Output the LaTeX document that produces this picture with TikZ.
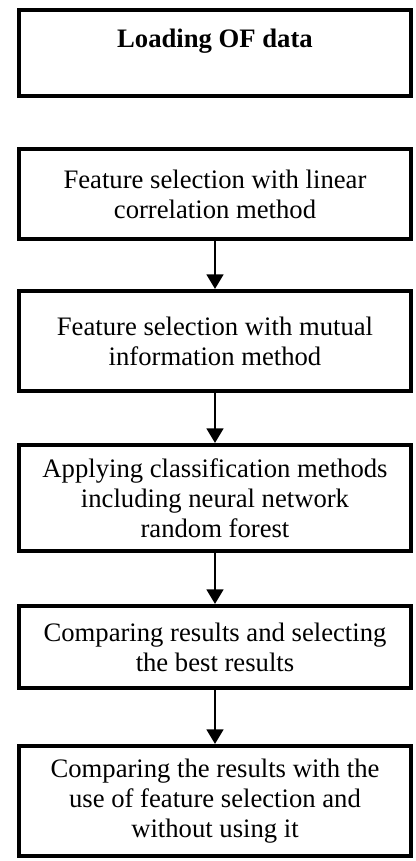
\documentclass[tikz,border=0pt]{standalone}
\usepackage{fontspec}
\setmainfont{Liberation Serif}
\usepackage{tikz}
\usetikzlibrary{arrows.meta, positioning}
\tikzstyle{process} = [rectangle, minimum width=294pt, text centered, align=center, draw=black, line width=3pt, font=\fontsize{20pt}{22.5pt}\selectfont]
\tikzstyle{arrow}   = [line width=2pt, -{Triangle[width=12.5pt,length=11pt]}]

\begin{document}
\begin{tikzpicture}[node distance=110pt]
\node (load) [process, minimum height=64.5pt] {\textbf{Loading OF data}\\ \mbox{}};
\node (linear) [process, below of=load, yshift=4.25pt, minimum height=67.5pt] {Feature selection with linear\\correlation method};
\node (mutual) [process, below of=linear, yshift=-0.25pt, minimum height=75pt] {Feature selection with mutual\\information method};
\node (classify) [process, below of=mutual, yshift=-7.75pt, minimum height=79.5pt] {Applying classification methods\\including neural network\\random forest};
\node (best) [process, below of=classify, yshift=-1.75pt, minimum height=61.5pt] {Comparing results and selecting\\the best results};
\node (compare) [process, below of=best, yshift=-5.5pt, minimum height=82.5pt] {Comparing the results with the\\use of feature selection and\\without using it};

\draw [arrow] (linear) -- (mutual);
\draw [arrow] (mutual) -- (classify);
\draw [arrow] (classify) -- (best);
\draw [arrow] (best) -- (compare);

\useasboundingbox (-161.25pt,39.75pt) rectangle (150.75pt,-606pt);
\end{tikzpicture}
\end{document}
